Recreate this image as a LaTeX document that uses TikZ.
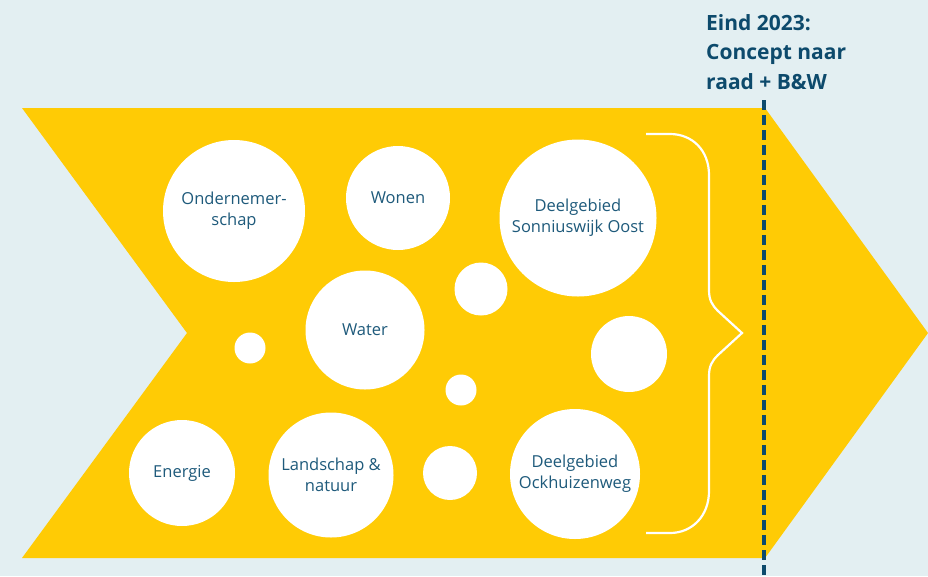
\documentclass[tikz,border=0pt]{standalone}
\usepackage{fontspec}
\setmainfont{Open Sans}
\definecolor{bgblue}{HTML}{E3EFF2}
\definecolor{arrowyellow}{HTML}{FFCB05}
\definecolor{textblue}{HTML}{1E5A7B}
\definecolor{darkblue}{HTML}{0D4A6C}

\begin{document}
\begin{tikzpicture}[x=1pt, y=-1pt,
    bubble/.style={circle, fill=white, inner sep=0pt, text=textblue, align=center,
                   font=\fontsize{16.5}{21}\selectfont},
    dot/.style={circle, fill=white, inner sep=0pt}]
  % background
  \fill[bgblue] (0,0) rectangle (928,576);
  \useasboundingbox (0,0) rectangle (928,576);
  % chevron
  \fill[arrowyellow] (22,108)--(765,108)--(928,333)--(765,558)--(22,558)--(187,333)--cycle;
  % themes
  \node[bubble, minimum size=142pt] (onder) at (234,211) {Ondernemer-\\schap};
  \node[bubble, minimum size=104pt] (wonen) at (398,198) {Wonen};
  \node[bubble, minimum size=157pt] (oost) at (578,218) {Deelgebied\\Sonniuswijk Oost};
  \node[bubble, minimum size=119pt] (water) at (365,330) {Water};
  \node[bubble, minimum size=106pt] (energie) at (182,473) {Energie};
  \node[bubble, minimum size=125pt] (landschap) at (331,475) {Landschap \&\\natuur};
  \node[bubble, minimum size=130pt] (ockhuizen) at (575,474) {Deelgebied\\Ockhuizenweg};
  % loose dots
  \node[dot, minimum size=53pt] (d1) at (481,289) {};
  \node[dot, minimum size=31pt] (d2) at (250,348) {};
  \node[dot, minimum size=76pt] (d3) at (629,354) {};
  \node[dot, minimum size=31pt] (d4) at (461,390) {};
  \node[dot, minimum size=54pt] (d5) at (450,473) {};
  % brace
  \draw[white, line width=2.2pt] (646,134)--(670,134) .. controls (692,134) and (709,150) .. (709,175)
    --(709,290) .. controls (709,300) and (712,305) .. (718,311)--(742,333)--(718,355)
    .. controls (712,361) and (709,366) .. (709,376)--(709,491)
    .. controls (709,516) and (692,533) .. (670,533)--(646,533);
  % deadline
  \coordinate (dtop) at (764,100);
  \coordinate (dbot) at (764,576);
  \draw[darkblue, line width=3.2pt, dash pattern=on 10pt off 5pt] (dtop)--(dbot);
  \node[anchor=north west, inner sep=0pt, align=left, text=darkblue,
        font=\fontsize{21}{29.5}\selectfont\bfseries] (deadline) at (706,14)
        {Eind 2023:\\Concept naar\\raad + B\&W};
\end{tikzpicture}
\end{document}
